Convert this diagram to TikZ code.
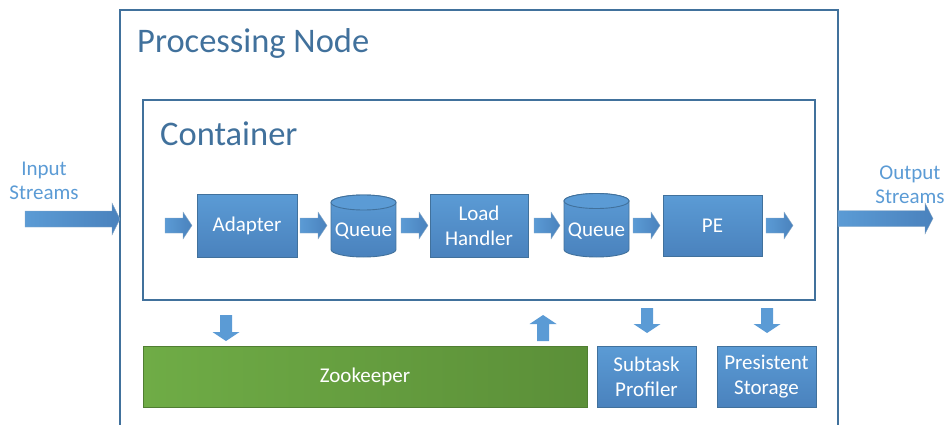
\documentclass[tikz,border=0pt]{standalone}
\usepackage{fontspec}
\setmainfont{Carlito}
\definecolor{bordblue}{HTML}{41719C}
\definecolor{blueL}{HTML}{5B9BD5}
\definecolor{blueD}{HTML}{4A82BD}
\definecolor{greenL}{HTML}{6FAC46}
\definecolor{greenD}{HTML}{5B8F38}
\definecolor{greenB}{HTML}{507E32}
\definecolor{titleblue}{HTML}{41719C}
\definecolor{labelblue}{HTML}{5B9BD5}
\tikzset{
  frame/.style={draw=bordblue, line width=1.6pt},
  boxfont/.style={font=\fontsize{21}{25}\selectfont},
  bbox/.style={draw=bordblue, line width=0.9pt, top color=blueL, bottom color=blueD,
    text=white, boxfont, align=center, inner sep=0pt},
  gbox/.style={draw=greenB, line width=0.9pt, left color=greenL, right color=greenD,
    text=white, boxfont, align=center, inner sep=0pt},
  harrstyle/.style={left color=blueL, right color=blueD, draw=bordblue!60, line width=0.3pt},
  varrstyle/.style={fill=blueL},
  cylbody/.style={draw=bordblue, line width=0.9pt, top color=blueL, bottom color=blueD},
  cyltop/.style={draw=bordblue, line width=0.9pt, fill=blueL},
  title/.style={text=titleblue, font=\fontsize{34.5}{40}\selectfont, inner sep=0pt, anchor=base west},
  streamlabel/.style={text=labelblue, font=\fontsize{21}{24}\selectfont, align=center, inner sep=0pt},
}
% horizontal block arrow: x start, x tip, y center, half shaft, half head, head length
\newcommand\harr[6]{\path[harrstyle] (#1,{#3-#4}) -- ({#2-#6},{#3-#4}) -- ({#2-#6},{#3-#5}) -- (#2,#3)
  -- ({#2-#6},{#3+#5}) -- ({#2-#6},{#3+#4}) -- (#1,{#3+#4}) -- cycle;}
% vertical block arrow pointing down: x center, y start, y tip, half shaft, half head, head length
\newcommand\darr[6]{\path[varrstyle] ({#1-#4},#2) -- ({#1+#4},#2) -- ({#1+#4},{#3-#6}) -- ({#1+#5},{#3-#6})
  -- (#1,#3) -- ({#1-#5},{#3-#6}) -- ({#1-#4},{#3-#6}) -- cycle;}
% vertical block arrow pointing up
\newcommand\uarr[6]{\path[varrstyle] ({#1-#4},#2) -- ({#1+#4},#2) -- ({#1+#4},{#3+#6}) -- ({#1+#5},{#3+#6})
  -- (#1,#3) -- ({#1-#5},{#3+#6}) -- ({#1-#4},{#3+#6}) -- cycle;}
% cylinder: x left, x right, y top-ellipse centre, y bottom-ellipse centre, half width, ry
\newcommand\cyl[6]{%
  \path[cylbody] (#1,#3) -- (#1,#4) arc[start angle=180, end angle=360, x radius=#5pt, y radius=#6pt]
    -- (#2,#3) arc[start angle=0, end angle=180, x radius=#5pt, y radius=#6pt] -- cycle;
  \path[cyltop] (#1,#3) arc[start angle=180, end angle=540, x radius=#5pt, y radius=#6pt];}
\begin{document}
\begin{tikzpicture}[x=1pt, y=-1pt]
\useasboundingbox (0,0) rectangle (947,425);
% processing node frame
\draw[frame] (120,426) -- (120,10) -- (838,10) -- (838,426);
\node[title] (pntitle) at (137,53) {Processing Node};
% container
\draw[frame] (143,100) rectangle (815,300);
\node[title] (ctitle) at (160,145) {Container};
% stream labels
\node[streamlabel] (inlbl) at (44,181) {Input\\Streams};
\node[streamlabel] (outlbl) at (910,185) {Output\\Streams};
% big in/out arrows
\harr{25}{120}{219}{8}{16}{8}
\harr{838}{933}{218.5}{8}{15.5}{8}
% pipeline boxes
\node[bbox, minimum width=100pt, minimum height=63pt] (adapter) at (247,225.5) {Adapter};
\node[bbox, minimum width=98pt, minimum height=63pt] (load) at (479,225.5) {Load\\Handler};
\node[bbox, minimum width=99pt, minimum height=61pt] (pe) at (712.5,225.5) {PE};
\cyl{331}{396}{202.5}{249.5}{32.5}{7.5}
\node[text=white, boxfont, inner sep=0pt] (q1) at (363.5,231) {Queue};
\cyl{564}{629}{201}{249.5}{32.5}{7.5}
\node[text=white, boxfont, inner sep=0pt] (q2) at (596.5,231) {Queue};
% small arrows
\harr{165}{192}{225.5}{7.5}{13.5}{9}
\harr{300}{327}{225.5}{7.5}{13.5}{9}
\harr{401}{428}{225.5}{7.5}{13.5}{9}
\harr{534}{560}{225.5}{7.5}{13.5}{9}
\harr{633}{660}{225.5}{7.5}{13.5}{9}
\harr{766}{793}{225.5}{7.5}{13.5}{9}
% bottom services
\node[gbox, minimum width=444pt, minimum height=61pt] (zk) at (365,376.5) {Zookeeper};
\node[bbox, minimum width=99pt, minimum height=61pt] (prof) at (646.5,376.5) {Subtask\\Profiler};
\node[bbox, minimum width=99pt, minimum height=61pt] (store) at (766.5,376.5) {Presistent\\Storage};
% vertical arrows
\darr{226}{315}{341}{6}{13.5}{9}
\uarr{543}{341}{315}{6}{13.5}{9}
\darr{647}{308}{333}{6}{13.5}{9}
\darr{767}{308}{333}{6}{13.5}{9}
\end{tikzpicture}
\end{document}
